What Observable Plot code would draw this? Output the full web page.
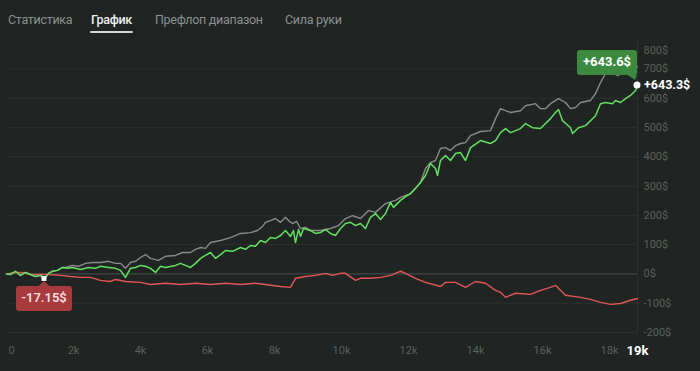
<!DOCTYPE html>
<html>
<head>
<meta charset="utf-8">
<script src="https://cdn.jsdelivr.net/npm/d3@7"></script>
<script src="https://cdn.jsdelivr.net/npm/@observablehq/plot@0.6"></script>
<style>
html,body{margin:0;padding:0;background:#202422;width:700px;height:371px;overflow:hidden;font-family:Roboto,"Noto Sans",sans-serif;}
#tabs{height:36px;position:relative;}
.tab{position:absolute;top:11px;font-size:12.5px;letter-spacing:-0.3px;line-height:18px;color:#8b9190;white-space:nowrap;}
.tab.active{color:#f0f0f0;font-weight:500;}
.tab.active::after{content:"";position:absolute;left:-1px;right:-1px;top:20px;height:2px;background:#d6d6d6;border-radius:1px;}
#chart svg{display:block;}
</style>
</head>
<body>
<div id="tabs"></div>
<div id="chart"></div>
<script>
// ---- data ----
const tabs = ["Статистика", "График", "Префлоп диапазон", "Сила руки"];
const activeTab = "График";

// green: net won  [hands, $]
const netWon = [[0,0],[119,-2],[269,9],[418,-5],[567,5],[716,-2],[866,-9],[1015,-5],[1134,-17.15],[1254,2],[1373,9],[1522,12],[1672,22],[1821,19],[1970,22],[2209,15],[2448,22],[2657,19],[2806,26],[3045,22],[3254,19],[3403,12],[3552,-12],[3701,19],[3851,22],[4000,29],[4149,26],[4298,19],[4448,5],[4597,26],[4746,22],[5045,29],[5194,36],[5343,29],[5492,22],[5642,36],[5791,53],[5940,63],[6089,73],[6239,53],[6388,66],[6537,80],[6746,77],[6985,90],[7134,84],[7283,97],[7433,94],[7582,114],[7731,107],[7880,124],[8030,121],[8179,131],[8328,148],[8477,128],[8567,148],[8627,107],[8716,152],[8776,128],[8866,155],[9075,148],[9224,138],[9373,141],[9522,152],[9671,138],[9821,131],[9970,155],[10119,172],[10268,176],[10418,165],[10567,172],[10716,155],[10865,193],[11015,206],[11164,186],[11313,206],[11462,244],[11552,227],[11761,251],[11910,264],[12060,274],[12209,292],[12358,312],[12507,336],[12657,377],[12806,360],[12866,336],[12955,387],[13104,404],[13254,387],[13403,411],[13552,414],[13701,387],[13850,431],[14149,455],[14448,445],[14597,455],[14746,482],[14895,496],[15045,482],[15343,496],[15492,513],[15701,499],[15940,496],[16089,513],[16238,530],[16388,551],[16477,561],[16597,523],[16836,499],[16895,479],[17074,499],[17283,506],[17432,523],[17582,540],[17731,581],[17880,585],[18089,581],[18179,592],[18328,585],[18477,598],[18626,609],[18776,626],[18835,643.3]];

// gray: all-in EV
const allInEV = [[0,0],[119,-2],[269,9],[418,-5],[567,5],[716,-2],[866,-9],[1015,-5],[1134,-17.15],[1254,2],[1373,9],[1522,12],[1672,22],[1761,22],[1970,29],[2149,26],[2358,36],[2567,39],[2806,39],[3045,43],[3254,36],[3403,36],[3552,19],[3701,39],[3851,43],[4000,56],[4149,66],[4298,53],[4537,46],[4746,60],[5045,63],[5254,73],[5492,73],[5642,84],[5791,90],[5940,87],[6089,107],[6388,114],[6686,124],[6985,138],[7283,141],[7492,148],[7642,162],[7731,176],[7880,182],[8030,189],[8179,176],[8328,193],[8418,182],[8537,172],[8657,179],[8776,155],[8925,159],[9075,148],[9373,148],[9671,155],[9910,165],[10119,189],[10328,199],[10567,189],[10806,216],[11015,210],[11313,240],[11612,251],[11761,261],[12060,274],[12209,292],[12358,312],[12507,360],[12657,380],[12806,387],[12955,428],[13104,431],[13254,421],[13403,438],[13552,445],[13701,448],[13850,472],[14149,486],[14448,489],[14597,530],[14746,564],[14895,557],[15045,551],[15343,557],[15492,574],[15791,581],[15940,564],[16089,564],[16238,581],[16477,598],[16686,585],[16836,564],[16985,568],[17134,585],[17432,592],[17582,615],[17731,653],[17880,684],[18089,687],[18238,677],[18477,694],[18835,707]];

// red: won without showdown
const noShowdown = [[0,0],[269,5],[478,5],[716,-2],[1015,-2],[1313,-2],[1612,-5],[1910,-9],[2209,-12],[2507,-12],[2806,-22],[3104,-26],[3254,-19],[3552,-26],[4000,-29],[4298,-36],[4746,-32],[5194,-36],[5642,-32],[6089,-36],[6537,-32],[6985,-36],[7433,-32],[7731,-36],[8179,-43],[8477,-46],[8627,-15],[8925,-9],[9224,-5],[9522,2],[9731,-5],[9970,2],[10119,2],[10418,-22],[10567,-15],[10865,-15],[11164,-12],[11462,-5],[11761,9],[11910,2],[12209,-15],[12507,-29],[12955,-43],[13104,-29],[13403,-29],[13701,-46],[14000,-26],[14298,-32],[14597,-56],[14746,-63],[14895,-80],[15194,-66],[15641,-70],[15940,-56],[16238,-46],[16388,-39],[16537,-56],[16686,-73],[17134,-80],[17432,-87],[17731,-97],[18029,-104],[18328,-101],[18626,-90],[18835,-84]];

const yTicks = [800, 700, 600, 500, 400, 300, 200, 100, 0, -100, -200];
const xTicks = [0, 2000, 4000, 6000, 8000, 10000, 12000, 14000, 16000, 18000];
const xTickLabels = ["0", "2k", "4k", "6k", "8k", "10k", "12k", "14k", "16k", "18k"];
const totalHands = 18835;
const totalLabel = "19k";
const endValue = 643.3;
const endLabel = "+643.3$";
const peakLabel = "+643.6$";
const minPoint = [1134, -17.15];
const minLabel = "-17.15$";

// ---- tabs ----
const tabLeft = [8, 91, 155, 285];
const tabsEl = document.getElementById("tabs");
tabs.forEach((t, i) => {
  const s = document.createElement("span");
  s.className = "tab" + (t === activeTab ? " active" : "");
  s.style.left = tabLeft[i] + "px";
  s.textContent = t;
  tabsEl.append(s);
});

// ---- chart ----
const toObj = a => a.map(([h, v]) => ({h, v}));
const gridVals = yTicks.filter(d => d !== 0 && d !== 800);
const labelColor = "#5b605e";

const chart = Plot.plot({
  width: 700,
  height: 335,
  marginTop: 3,
  marginBottom: 39,
  marginLeft: 6,
  marginRight: 63,
  style: {background: "transparent", fontFamily: "Roboto, 'Noto Sans', sans-serif"},
  x: {domain: [0, totalHands], axis: null},
  y: {domain: [-200, 800], axis: null},
  marks: [
    Plot.ruleY(gridVals, {stroke: "#2c3130", strokeWidth: 1}),
    Plot.ruleY([0], {stroke: "#4b504e", strokeWidth: 1}),
    Plot.ruleX([totalHands], {stroke: "#2c3130", strokeWidth: 1}),
    Plot.line(toObj(allInEV), {x: "h", y: "v", stroke: "#8a8a8a", strokeWidth: 1.4}),
    Plot.line(toObj(noShowdown), {x: "h", y: "v", stroke: "#e05656", strokeWidth: 1.4}),
    Plot.line(toObj(netWon), {x: "h", y: "v", stroke: "#62e062", strokeWidth: 1.5}),
    Plot.text(yTicks.filter(d => d !== 800), {x: totalHands, y: d => d, text: d => d + "$", textAnchor: "start", dx: 6, fill: labelColor, fontSize: 11}),
    Plot.text(yTicks.filter(d => d === 800), {x: totalHands, y: d => d, text: d => d + "$", textAnchor: "start", dx: 6, dy: 11, fill: labelColor, fontSize: 11}),
    Plot.text(xTicks.slice(1), {x: d => d, y: -200, dy: 18, text: (d, i) => xTickLabels[i + 1], fill: labelColor, fontSize: 11}),
    Plot.text(xTicks.slice(0, 1), {x: d => d, y: -200, dy: 18, dx: 2, textAnchor: "start", text: () => xTickLabels[0], fill: labelColor, fontSize: 11}),
    Plot.text([totalHands], {x: d => d, y: -200, dy: 18, text: () => totalLabel, fill: "#ffffff", fontSize: 13, fontWeight: "bold"})
  ]
});
document.getElementById("chart").append(chart);

// ---- annotations positioned through the plot's scales ----
const sx = chart.scale("x"), sy = chart.scale("y");
const svg = d3.select(chart);

const endG = svg.append("g").attr("transform", `translate(${sx.apply(totalHands)},${sy.apply(endValue)})`);
endG.append("rect").attr("x", -60).attr("y", -35).attr("width", 60).attr("height", 25).attr("rx", 3).attr("fill", "#3c8a3f");
endG.append("polygon").attr("points", "-10,-10.5 0,-10.5 -2,-5").attr("fill", "#3c8a3f");
endG.append("text").attr("x", -30).attr("y", -22).attr("text-anchor", "middle").attr("dominant-baseline", "middle")
  .attr("fill", "#ffffff").attr("font-size", 13).attr("font-weight", "bold").text(peakLabel);
endG.append("circle").attr("r", 3.5).attr("fill", "#ffffff");
endG.append("text").attr("x", 7).attr("y", 0.5).attr("text-anchor", "start").attr("dominant-baseline", "middle")
  .attr("fill", "#ffffff").attr("font-size", 12.5).attr("font-weight", "bold").text(endLabel);

const minG = svg.append("g").attr("transform", `translate(${sx.apply(minPoint[0])},${sy.apply(minPoint[1])})`);
minG.append("rect").attr("x", -28).attr("y", 7.5).attr("width", 56).attr("height", 25).attr("rx", 3).attr("fill", "#a63a3c");
minG.append("polygon").attr("points", "-6,8 6,8 0,2.5").attr("fill", "#a63a3c");
minG.append("rect").attr("x", -2.5).attr("y", -2.5).attr("width", 5).attr("height", 5).attr("fill", "#ffffff");
minG.append("text").attr("x", 0).attr("y", 20.5).attr("text-anchor", "middle").attr("dominant-baseline", "middle")
  .attr("fill", "#f6dede").attr("font-size", 13).attr("font-weight", 600).text(minLabel);
</script>
</body>
</html>
